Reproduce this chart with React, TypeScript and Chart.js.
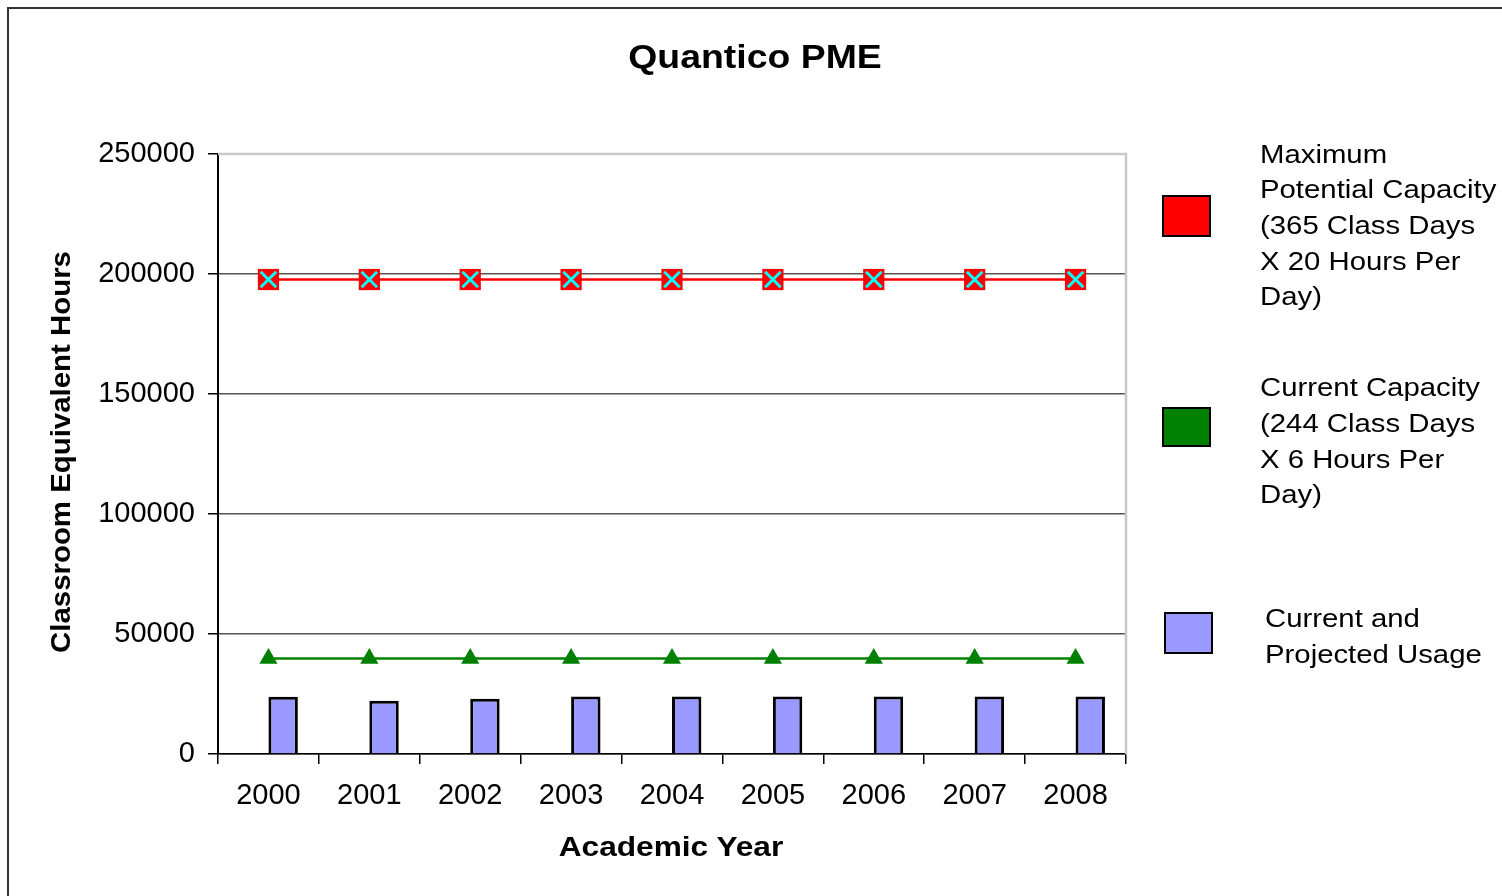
import React, { useEffect, useRef } from "react";
import { Chart, registerables } from "chart.js";

Chart.register(...registerables);

const YEARS = ["2000", "2001", "2002", "2003", "2004", "2005", "2006", "2007", "2008"];
const MAX_CAPACITY = [197700, 197700, 197700, 197700, 197700, 197700, 197700, 197700, 197700];
const CURRENT_CAPACITY = [39800, 39800, 39800, 39800, 39800, 39800, 39800, 39800, 39800];
const USAGE = [23900, 22200, 23000, 24000, 24000, 24000, 24000, 24000, 24000];
const EMPTY_SLOT = [null, null, null, null, null, null, null, null, null];
const Y_MIN = 0;
const Y_MAX = 250000;
const Y_STEP = 50000;

const TITLE = "Quantico PME";
const X_TITLE = "Academic Year";
const Y_TITLE = "Classroom Equivalent Hours";
const LEGEND_MAX = ["Maximum", "Potential Capacity", "(365 Class Days", "X 20 Hours Per", "Day)"];
const LEGEND_CUR = ["Current Capacity", "(244 Class Days", "X 6 Hours Per", "Day)"];
const LEGEND_USE = ["Current and", "Projected Usage"];

const FONT = "'Liberation Sans', Arial, Helvetica, sans-serif";

const frameBorderPlugin = {
  id: "frameBorder",
  beforeDatasetsDraw(chart: any) {
    const { ctx, chartArea } = chart;
    ctx.save();
    ctx.strokeStyle = "#c8c8c8";
    ctx.lineWidth = 2.5;
    ctx.beginPath();
    ctx.moveTo(chartArea.left, chartArea.top);
    ctx.lineTo(chartArea.right, chartArea.top);
    ctx.lineTo(chartArea.right, chartArea.bottom);
    ctx.stroke();
    ctx.restore();
  },
};

function Lines({ lines, left, top, size, lh, sx }: any) {
  return (
    <div
      style={{
        position: "absolute",
        left,
        top,
        fontFamily: FONT,
        fontSize: size,
        lineHeight: lh + "px",
        whiteSpace: "nowrap",
        color: "#000",
        transform: `scaleX(${sx})`,
        transformOrigin: "left top",
      }}
    >
      {lines.map((l: string, i: number) => (
        <div key={i}>{l}</div>
      ))}
    </div>
  );
}

function Swatch({ left, top, w, h, color }: any) {
  return (
    <div
      style={{
        position: "absolute",
        left,
        top,
        width: w,
        height: h,
        background: color,
        border: "2px solid #000",
        boxSizing: "border-box",
      }}
    />
  );
}

export default function App() {
  const ref = useRef<HTMLCanvasElement>(null);

  useEffect(() => {
    if (!ref.current) return;
    const chart = new Chart(ref.current, {
      type: "bar",
      data: {
        labels: YEARS,
        datasets: [
          {
            type: "line",
            label: "Maximum Potential Capacity X",
            data: MAX_CAPACITY,
            showLine: false,
            pointStyle: "crossRot",
            pointRadius: 11,
            pointBorderColor: "#00ffff",
            pointBackgroundColor: "#00ffff",
            pointBorderWidth: 3,
            order: 0,
          } as any,
          {
            type: "line",
            label: "Maximum Potential Capacity",
            data: MAX_CAPACITY,
            borderColor: "#ff0000",
            borderWidth: 2.5,
            pointStyle: "rect",
            pointRadius: 15,
            pointBackgroundColor: "#ff0000",
            pointBorderColor: "#ff0000",
            pointBorderWidth: 0,
            order: 1,
          } as any,
          {
            type: "line",
            label: "Current Capacity",
            data: CURRENT_CAPACITY,
            borderColor: "#008000",
            borderWidth: 2.5,
            pointStyle: "triangle",
            pointRadius: 10.5,
            pointBackgroundColor: "#008000",
            pointBorderColor: "#008000",
            pointBorderWidth: 0,
            order: 2,
          } as any,
          {
            type: "bar",
            label: "",
            data: EMPTY_SLOT,
            backgroundColor: "transparent",
            order: 3,
          } as any,
          {
            type: "bar",
            label: "Current and Projected Usage",
            data: USAGE,
            backgroundColor: "#9999ff",
            borderColor: "#000000",
            borderWidth: 3,
            order: 3,
          } as any,
        ],
      },
      options: {
        responsive: false,
        animation: false,
        devicePixelRatio: 1,
        events: [],
        categoryPercentage: 0.583,
        barPercentage: 1,
        layout: { padding: { left: 0, top: 154, right: 376, bottom: 0 } },
        plugins: {
          legend: { display: false },
          tooltip: { enabled: false },
          title: { display: false },
        },
        scales: {
          x: {
            offset: true,
            afterFit: (s: any) => {
              s.height = 142;
            },
            grid: {
              offset: true,
              drawOnChartArea: false,
              drawTicks: true,
              tickLength: 10,
              color: "#000",
              tickColor: "#000",
              lineWidth: 1.5,
            },
            border: { display: true, color: "#000", width: 1.5 },
            ticks: {
              color: "#000",
              font: { family: FONT, size: 29 },
              padding: 15,
              maxRotation: 0,
              autoSkip: false,
            },
          },
          y: {
            min: Y_MIN,
            max: Y_MAX,
            afterFit: (s: any) => {
              s.width = 218;
            },
            grid: {
              drawOnChartArea: true,
              drawTicks: true,
              tickLength: 10,
              color: (c: any) => (c.tick && c.tick.value === Y_MAX ? "rgba(0,0,0,0)" : "#555"),
              tickColor: "#000",
              lineWidth: 1.5,
            },
            border: { display: true, color: "#000", width: 2 },
            ticks: {
              stepSize: Y_STEP,
              color: "#000",
              font: { family: FONT, size: 29 },
              padding: 13,
              callback: (v: any) => String(v),
            },
          },
        },
      },
      plugins: [frameBorderPlugin],
    } as any);
    return () => chart.destroy();
  }, []);

  return (
    <div
      style={{
        position: "fixed",
        left: 0,
        top: 0,
        width: 1502,
        height: 896,
        overflow: "hidden",
        background: "#fff",
      }}
    >
      <div
        style={{
          position: "absolute",
          left: 7,
          top: 7,
          width: 1700,
          height: 1100,
          border: "2px solid #333",
        }}
      />
      <canvas
        ref={ref}
        width={1502}
        height={896}
        style={{ position: "absolute", left: 0, top: 0, width: 1502, height: 896 }}
      />
      {/* Title */}
      <div
        style={{
          position: "absolute",
          left: 755 - 300,
          top: 56 - 20,
          width: 600,
          textAlign: "center",
          fontFamily: FONT,
          fontWeight: "bold",
          fontSize: 34,
          lineHeight: "40px",
          transform: "scaleX(1.1)",
          transformOrigin: "center",
          whiteSpace: "nowrap",
        }}
      >
        {TITLE}
      </div>
      {/* X axis title */}
      <div
        style={{
          position: "absolute",
          left: 671 - 300,
          top: 847 - 17,
          width: 600,
          textAlign: "center",
          fontFamily: FONT,
          fontWeight: "bold",
          fontSize: 28,
          lineHeight: "34px",
          transform: "scaleX(1.13)",
          transformOrigin: "center",
          whiteSpace: "nowrap",
        }}
      >
        {X_TITLE}
      </div>
      {/* Y axis title */}
      <div
        style={{
          position: "absolute",
          left: 61 - 300,
          top: 452 - 17,
          width: 600,
          height: 34,
          textAlign: "center",
          fontFamily: FONT,
          fontWeight: "bold",
          fontSize: 28,
          lineHeight: "34px",
          transform: "rotate(-90deg) scaleX(1.05)",
          transformOrigin: "center",
          whiteSpace: "nowrap",
        }}
      >
        {Y_TITLE}
      </div>
      {/* Legend */}
      <Swatch left={1162} top={195} w={49} h={42} color="#ff0000" />
      <Lines lines={LEGEND_MAX} left={1260} top={136.6} size={25.5} lh={35.7} sx={1.15} />
      <Swatch left={1162} top={407} w={49} h={40} color="#008000" />
      <Lines lines={LEGEND_CUR} left={1260} top={370.2} size={25.5} lh={35.7} sx={1.15} />
      <Swatch left={1164} top={612} w={49} h={42} color="#9999ff" />
      <Lines lines={LEGEND_USE} left={1265} top={601.4} size={25.5} lh={35.7} sx={1.15} />
    </div>
  );
}
